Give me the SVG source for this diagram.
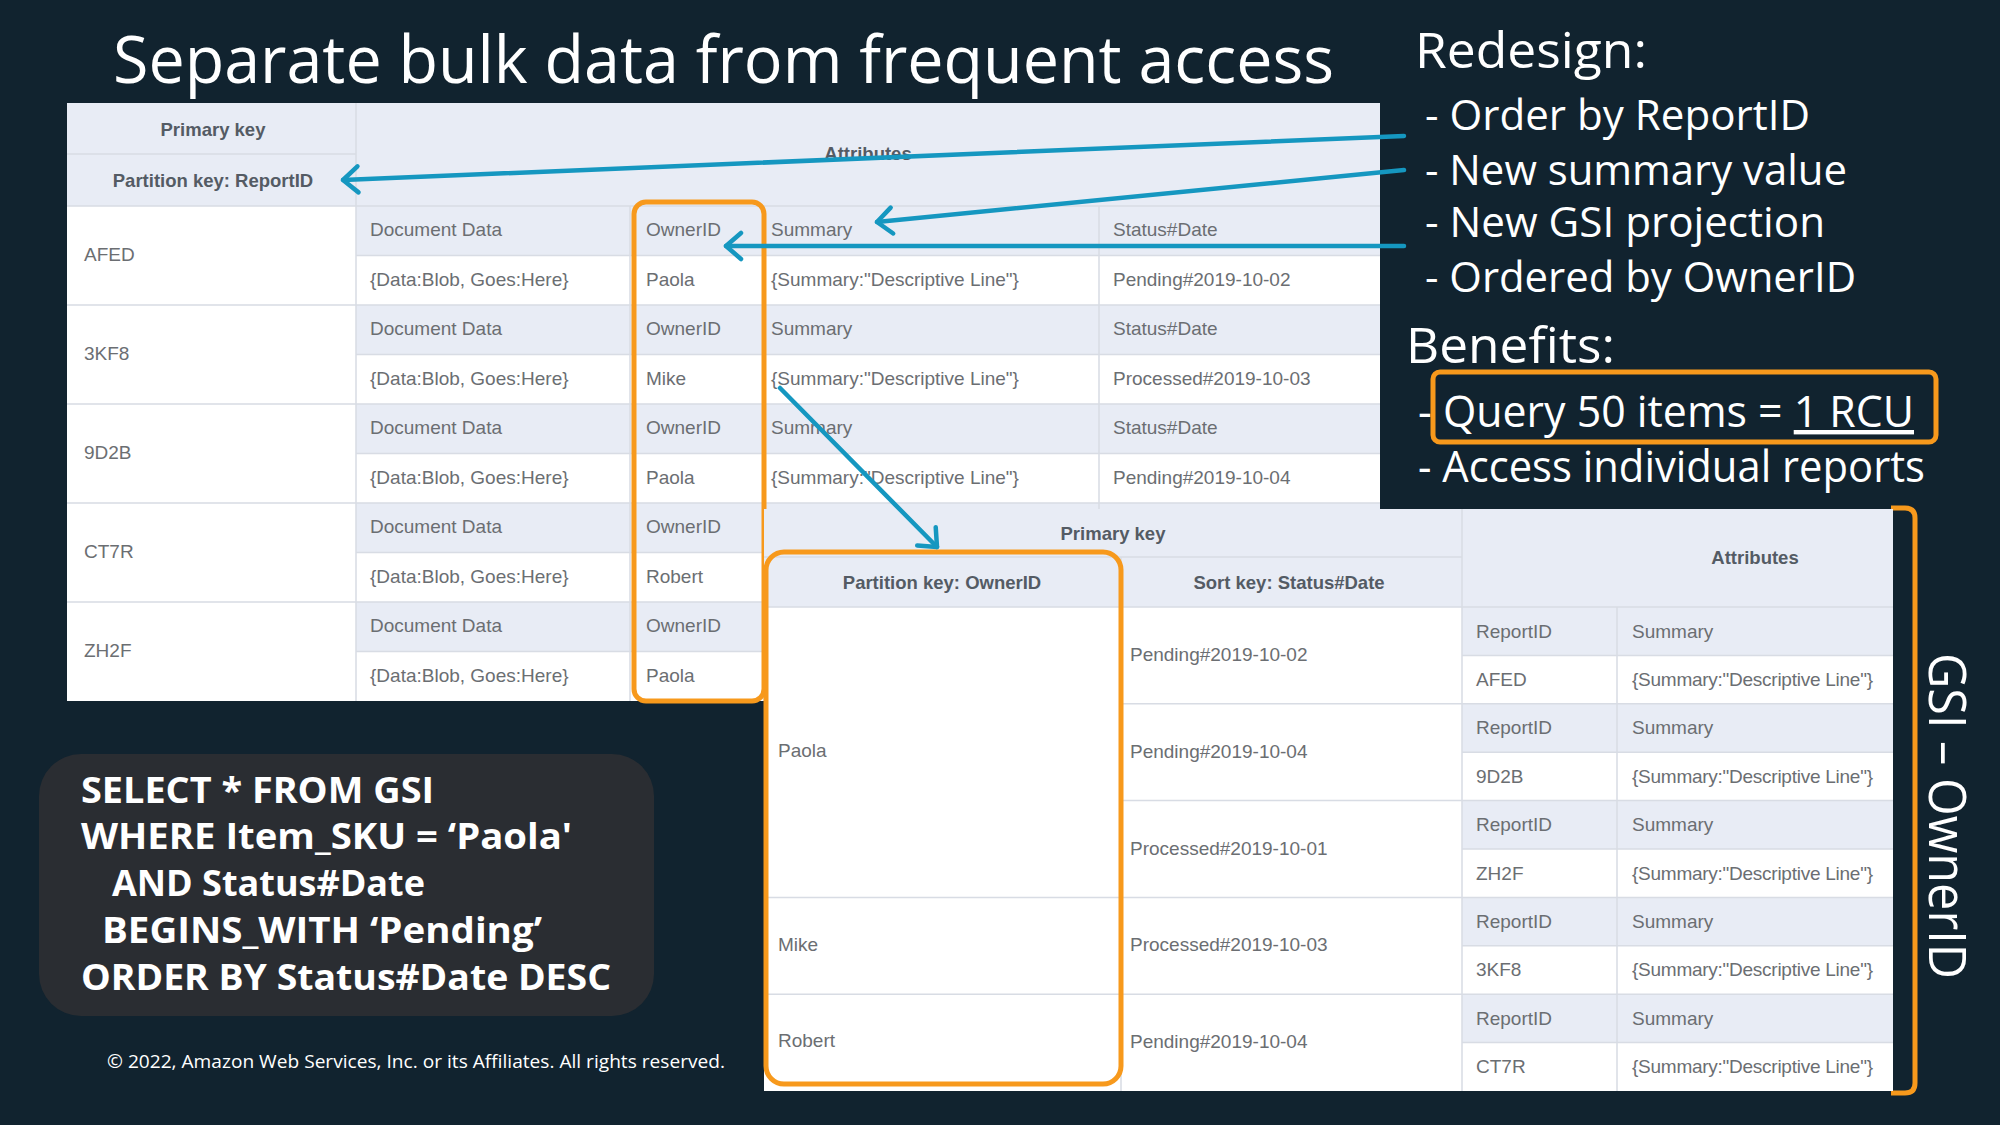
<svg xmlns="http://www.w3.org/2000/svg" width="2000" height="1125" viewBox="0 0 2000 1125">
<defs>
<style>
.t{font-family:"Liberation Sans",Arial,sans-serif;font-size:19px;fill:#6b6e72}
.h{font-family:"Liberation Sans",Arial,sans-serif;font-size:18.5px;font-weight:bold;fill:#545b64;text-anchor:middle}
.lt{fill:#e8ecf5}
.wh{fill:#ffffff}
.g{stroke:#d8dce4;stroke-width:1.5;fill:none}
.or{stroke:#f7991c;stroke-width:5;fill:none}
.ar{stroke:#1597c0;stroke-width:4.5;fill:none;stroke-linecap:round;marker-end:url(#ah)}
.w{font-family:"Open Sans","Noto Sans",sans-serif;fill:#ffffff}
.q{font-family:"Open Sans","Noto Sans",sans-serif;font-weight:bold;font-size:36px;fill:#ffffff}
</style>
<marker id="ah" markerUnits="userSpaceOnUse" viewBox="-22 -18 28 36" markerWidth="28" markerHeight="36" refX="0" refY="0" orient="auto">
<path d="M-15,-13 L0,0 L-15,13" stroke="#1597c0" stroke-width="4.5" fill="none" stroke-linecap="round" stroke-linejoin="round"/>
</marker>
</defs>
<rect width="2000" height="1125" fill="#11232f"/>

<g id="title">
<text class="w" x="113" y="83" font-size="66" textLength="1221" lengthAdjust="spacingAndGlyphs">Separate bulk data from frequent access</text>
</g>

<g id="main-table">
<rect class="wh" x="67" y="103" width="1313" height="598"/>
<rect class="lt" x="67" y="103" width="1313" height="103"/>
<rect class="lt" x="356" y="206" width="1024" height="49.5"/>
<rect class="lt" x="356" y="305" width="1024" height="49.5"/>
<rect class="lt" x="356" y="404" width="1024" height="49.5"/>
<rect class="lt" x="356" y="503" width="1024" height="49.5"/>
<rect class="lt" x="356" y="602" width="1024" height="49.5"/>
<path class="g" d="M67,154H356 M67,206H1380 M67,305H1380 M67,404H1380 M67,503H1380 M67,602H1380 M356,255.5H1380 M356,354.5H1380 M356,453.5H1380 M356,552.5H1380 M356,651.5H1380 M356,103V701 M630,206V701 M764,206V701 M1099,206V701"/>
<text class="h" x="213" y="136">Primary key</text>
<text class="h" x="213" y="187">Partition key: ReportID</text>
<text class="h" x="868" y="160">Attributes</text>
<g transform="translate(0,-1.5)">
<text class="t" x="84" y="262.5">AFED</text>
<text class="t" x="370" y="237.5">Document Data</text>
<text class="t" x="646" y="237.5">OwnerID</text>
<text class="t" x="771" y="237.5">Summary</text>
<text class="t" x="1113" y="237.5">Status#Date</text>
<text class="t" x="370" y="287">{Data:Blob, Goes:Here}</text>
<text class="t" x="646" y="287">Paola</text>
<text class="t" x="771" y="287">{Summary:"Descriptive Line"}</text>
<text class="t" x="1113" y="287">Pending#2019-10-02</text>
<text class="t" x="84" y="361.5">3KF8</text>
<text class="t" x="370" y="336.5">Document Data</text>
<text class="t" x="646" y="336.5">OwnerID</text>
<text class="t" x="771" y="336.5">Summary</text>
<text class="t" x="1113" y="336.5">Status#Date</text>
<text class="t" x="370" y="386">{Data:Blob, Goes:Here}</text>
<text class="t" x="646" y="386">Mike</text>
<text class="t" x="771" y="386">{Summary:"Descriptive Line"}</text>
<text class="t" x="1113" y="386">Processed#2019-10-03</text>
<text class="t" x="84" y="460.5">9D2B</text>
<text class="t" x="370" y="435.5">Document Data</text>
<text class="t" x="646" y="435.5">OwnerID</text>
<text class="t" x="771" y="435.5">Summary</text>
<text class="t" x="1113" y="435.5">Status#Date</text>
<text class="t" x="370" y="485">{Data:Blob, Goes:Here}</text>
<text class="t" x="646" y="485">Paola</text>
<text class="t" x="771" y="485">{Summary:"Descriptive Line"}</text>
<text class="t" x="1113" y="485">Pending#2019-10-04</text>
<text class="t" x="84" y="559.5">CT7R</text>
<text class="t" x="370" y="534.5">Document Data</text>
<text class="t" x="646" y="534.5">OwnerID</text>
<text class="t" x="370" y="584">{Data:Blob, Goes:Here}</text>
<text class="t" x="646" y="584">Robert</text>
<text class="t" x="84" y="658.5">ZH2F</text>
<text class="t" x="370" y="633.5">Document Data</text>
<text class="t" x="646" y="633.5">OwnerID</text>
<text class="t" x="370" y="683">{Data:Blob, Goes:Here}</text>
<text class="t" x="646" y="683">Paola</text>
</g>
</g>

<g id="owner-highlight">
<rect class="or" x="634" y="202" width="130" height="499" rx="12"/>
</g>

<g id="gsi-bracket">
<path class="or" d="M1891,508 H1905 Q1915,508 1915,518 V1083 Q1915,1093 1905,1093 H1891"/>
</g>

<g id="gsi-table">
<rect class="wh" x="764" y="509" width="1129" height="582"/>
<rect class="lt" x="764" y="509" width="1129" height="98"/>
<rect class="lt" x="1462" y="607" width="431" height="48.4"/>
<rect class="lt" x="1462" y="703.8" width="431" height="48.4"/>
<rect class="lt" x="1462" y="800.6" width="431" height="48.4"/>
<rect class="lt" x="1462" y="897.4" width="431" height="48.4"/>
<rect class="lt" x="1462" y="994.2" width="431" height="48.4"/>
<path class="g" d="M764,557H1462 M764,607H1893 M764,897.4H1893 M764,994.2H1893 M1121,703.8H1893 M1121,800.6H1893 M1462,655.4H1893 M1462,752.2H1893 M1462,849H1893 M1462,945.8H1893 M1462,1042.6H1893 M1121,557V1091 M1462,509V1091 M1617,607V1091"/>
<text class="h" x="1113" y="540">Primary key</text>
<text class="h" x="942" y="589">Partition key: OwnerID</text>
<text class="h" x="1289" y="589">Sort key: Status#Date</text>
<text class="h" x="1755" y="564">Attributes</text>
<g transform="translate(0,-1)">
<text class="t" x="778" y="758">Paola</text>
<text class="t" x="778" y="952">Mike</text>
<text class="t" x="778" y="1048">Robert</text>
<text class="t" x="1130" y="662">Pending#2019-10-02</text>
<text class="t" x="1130" y="759">Pending#2019-10-04</text>
<text class="t" x="1130" y="856">Processed#2019-10-01</text>
<text class="t" x="1130" y="952">Processed#2019-10-03</text>
<text class="t" x="1130" y="1049">Pending#2019-10-04</text>
<text class="t" x="1476" y="638.5">ReportID</text>
<text class="t" x="1632" y="638.5">Summary</text>
<text class="t" x="1476" y="687">AFED</text>
<text class="t" x="1632" y="687" textLength="241">{Summary:"Descriptive Line"}</text>
<text class="t" x="1476" y="735.3">ReportID</text>
<text class="t" x="1632" y="735.3">Summary</text>
<text class="t" x="1476" y="783.7">9D2B</text>
<text class="t" x="1632" y="783.7" textLength="241">{Summary:"Descriptive Line"}</text>
<text class="t" x="1476" y="832.1">ReportID</text>
<text class="t" x="1632" y="832.1">Summary</text>
<text class="t" x="1476" y="880.5">ZH2F</text>
<text class="t" x="1632" y="880.5" textLength="241">{Summary:"Descriptive Line"}</text>
<text class="t" x="1476" y="928.9">ReportID</text>
<text class="t" x="1632" y="928.9">Summary</text>
<text class="t" x="1476" y="977.3">3KF8</text>
<text class="t" x="1632" y="977.3" textLength="241">{Summary:"Descriptive Line"}</text>
<text class="t" x="1476" y="1025.7">ReportID</text>
<text class="t" x="1632" y="1025.7">Summary</text>
<text class="t" x="1476" y="1074.1">CT7R</text>
<text class="t" x="1632" y="1074.1" textLength="241">{Summary:"Descriptive Line"}</text>
</g>
</g>

<g id="gsi-key-highlight">
<rect class="or" x="766" y="552" width="355" height="532" rx="18"/>
</g>

<g id="gsi-label">
<text class="w" transform="translate(1929,653) rotate(90)" x="0" y="0" font-size="51" textLength="326" lengthAdjust="spacingAndGlyphs">GSI – OwnerID</text>
</g>

<g id="redesign">
<text class="w" x="1415" y="68" font-size="50" textLength="232" lengthAdjust="spacingAndGlyphs">Redesign:</text>
<text class="w" x="1425" y="130" font-size="42" textLength="385" lengthAdjust="spacingAndGlyphs">- Order by ReportID</text>
<text class="w" x="1425" y="185" font-size="42" textLength="422" lengthAdjust="spacingAndGlyphs">- New summary value</text>
<text class="w" x="1425" y="237" font-size="42" textLength="400" lengthAdjust="spacingAndGlyphs">- New GSI projection</text>
<text class="w" x="1425" y="292" font-size="42" textLength="431" lengthAdjust="spacingAndGlyphs">- Ordered by OwnerID</text>
</g>

<g id="benefits">
<text class="w" x="1406" y="363" font-size="50" textLength="209" lengthAdjust="spacingAndGlyphs">Benefits:</text>
<rect class="or" x="1433" y="372" width="503" height="70" rx="7"/>
<text class="w" x="1418" y="427" font-size="44" textLength="496" lengthAdjust="spacingAndGlyphs">- Query 50 items = <tspan text-decoration="underline">1 RCU</tspan></text>
<text class="w" x="1418" y="482" font-size="44" textLength="507" lengthAdjust="spacingAndGlyphs">- Access individual reports</text>
</g>

<g id="query">
<rect x="39" y="754" width="615" height="262" rx="42" fill="#2a2d32"/>
<text class="q" x="81" y="803" textLength="353" lengthAdjust="spacingAndGlyphs">SELECT * FROM GSI</text>
<text class="q" x="81" y="849" textLength="491" lengthAdjust="spacingAndGlyphs">WHERE Item_SKU = ‘Paola'</text>
<text class="q" x="112" y="896" textLength="313" lengthAdjust="spacingAndGlyphs">AND Status#Date</text>
<text class="q" x="102" y="943" textLength="440" lengthAdjust="spacingAndGlyphs">BEGINS_WITH ‘Pending’</text>
<text class="q" x="81" y="990" textLength="530" lengthAdjust="spacingAndGlyphs">ORDER BY Status#Date DESC</text>
</g>

<g id="footer">
<text class="w" x="107" y="1068" font-size="19" textLength="618" lengthAdjust="spacingAndGlyphs">© 2022, Amazon Web Services, Inc. or its Affiliates. All rights reserved.</text>
</g>

<g id="connectors">
<path class="ar" d="M1404,136 L343,180"/>
<path class="ar" d="M1404,170 L877,222"/>
<path class="ar" d="M1404,246 L726,246"/>
<path class="ar" d="M780,388 L937,547"/>
</g>
</svg>
